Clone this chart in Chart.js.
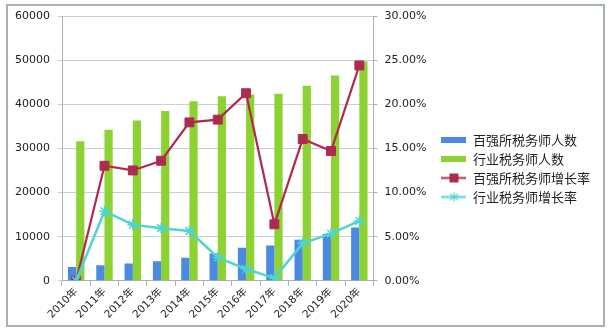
<!DOCTYPE html>
<html>
<head>
<meta charset="utf-8">
<script src="https://cdn.jsdelivr.net/npm/chart.js@4"></script>
<style>
  html, body { margin: 0; padding: 0; background: #fff; }
  .wrap { position: relative; width: 610px; height: 332px; }
  .frame { position: absolute; left: 6px; top: 4px; width: 595px; height: 319px; border: 2px solid #a7b1b8; pointer-events: none; }
</style>
</head>
<body>
<div class="wrap">
  <canvas id="chart" width="610" height="332"></canvas>
  <div class="frame"></div>
</div>
<script>
const years = ['2010年', '2011年', '2012年', '2013年', '2014年', '2015年', '2016年', '2017年', '2018年', '2019年', '2020年'];
const top100Count = [3100, 3500, 3900, 4400, 5200, 6200, 7500, 8000, 9300, 10600, 12100];
const industryCount = [31600, 34200, 36300, 38500, 40700, 41800, 42200, 42400, 44200, 46500, 49700];
const top100Rate = [0, 13.03, 12.5, 13.6, 17.95, 18.26, 21.25, 6.4, 16.06, 14.7, 24.4];
const industryRate = [0, 7.88, 6.36, 5.95, 5.64, 2.65, 1.33, 0.3, 4.24, 5.34, 6.78];

const BLUE = '#4a8ae0';
const GREEN = '#8cd232';
const RED = '#b02a50';
const CYAN = '#4fd4d2';
const FONT = '"DejaVu Sans", "Noto Sans CJK SC", sans-serif';

// legend icons: bar swatch or line with marker
function barIcon(color) {
  const c = document.createElement('canvas');
  c.width = 25; c.height = 6;
  const g = c.getContext('2d');
  g.fillStyle = color;
  g.fillRect(0, 0, 25, 6);
  return c;
}
function lineIcon(color, marker) {
  const c = document.createElement('canvas');
  c.width = 25; c.height = 11;
  const g = c.getContext('2d');
  g.strokeStyle = color;
  g.fillStyle = color;
  g.lineWidth = 2;
  g.beginPath(); g.moveTo(0, 5.5); g.lineTo(25, 5.5); g.stroke();
  if (marker === 'rect') {
    g.fillRect(8, 1, 9, 9);
  } else {
    g.lineWidth = 1.2;
    g.beginPath();
    g.moveTo(12.5, 1); g.lineTo(12.5, 10);
    g.moveTo(8.5, 2.5); g.lineTo(16.5, 8.5);
    g.moveTo(16.5, 2.5); g.lineTo(8.5, 8.5);
    g.stroke();
  }
  return c;
}
const legendIcons = [barIcon(BLUE), barIcon(GREEN), lineIcon(RED, 'rect'), lineIcon(CYAN, 'star')];

new Chart(document.getElementById('chart'), {
  type: 'bar',
  data: {
    labels: years,
    datasets: [
      {
        label: '百强所税务师人数',
        data: top100Count,
        backgroundColor: BLUE,
        yAxisID: 'y',
        order: 2,
        categoryPercentage: 0.58,
        barPercentage: 1.0
      },
      {
        label: '行业税务师人数',
        data: industryCount,
        backgroundColor: GREEN,
        yAxisID: 'y',
        order: 2,
        categoryPercentage: 0.58,
        barPercentage: 1.0
      },
      {
        type: 'line',
        label: '百强所税务师增长率',
        data: top100Rate,
        borderColor: RED,
        backgroundColor: RED,
        borderWidth: 2.2,
        pointStyle: 'rect',
        pointRadius: 6.3,
        pointBorderWidth: 1,
        yAxisID: 'y1',
        order: 1
      },
      {
        type: 'line',
        label: '行业税务师增长率',
        data: industryRate,
        borderColor: CYAN,
        backgroundColor: CYAN,
        borderWidth: 2.5,
        pointStyle: 'star',
        pointRadius: 5.5,
        pointBorderWidth: 1.5,
        yAxisID: 'y1',
        order: 0
      }
    ]
  },
  options: {
    responsive: false,
    animation: false,
    layout: {
      padding: { top: 16, left: 15, right: 10, bottom: 11 }
    },
    scales: {
      x: {
        grid: {
          display: true,
          offset: true,
          drawOnChartArea: false,
          tickLength: 5,
          color: '#a7b1b8'
        },
        border: { color: '#a7b1b8' },
        ticks: {
          minRotation: 45,
          maxRotation: 45,
          padding: 0,
          color: '#222',
          font: { family: FONT, size: 10.5 }
        },
        afterFit: (scale) => { scale.paddingLeft = 0; scale.paddingRight = 0; }
      },
      y: {
        position: 'left',
        min: 0,
        max: 60000,
        ticks: {
          stepSize: 10000,
          padding: 8,
          color: '#222',
          font: { family: FONT, size: 11 },
          callback: (v) => String(v)
        },
        grid: {
          color: '#c9d0d5',
          tickLength: 4
        },
        border: { color: '#a7b1b8' },
        afterFit: (scale) => { scale.width = 47; }
      },
      y1: {
        position: 'right',
        min: 0,
        max: 30,
        ticks: {
          stepSize: 5,
          padding: 7,
          color: '#222',
          font: { family: FONT, size: 11 },
          callback: (v) => v.toFixed(2) + '%'
        },
        grid: {
          drawOnChartArea: false,
          tickLength: 4,
          color: '#a7b1b8'
        },
        border: { color: '#a7b1b8' },
        afterFit: (scale) => { scale.width = 62; }
      }
    },
    plugins: {
      legend: {
        position: 'right',
        maxWidth: 220,
        labels: {
          usePointStyle: true,
          pointStyleWidth: 25,
          padding: 6,
          color: '#222',
          font: { family: '"Noto Sans CJK SC", sans-serif', size: 13 },
          sort: (a, b) => a.datasetIndex - b.datasetIndex,
          generateLabels: (chart) => {
            const items = Chart.defaults.plugins.legend.labels.generateLabels(chart);
            items.forEach((item) => { item.pointStyle = legendIcons[item.datasetIndex]; });
            return items;
          }
        }
      },
      tooltip: { enabled: false }
    }
  }
});
</script>
</body>
</html>
